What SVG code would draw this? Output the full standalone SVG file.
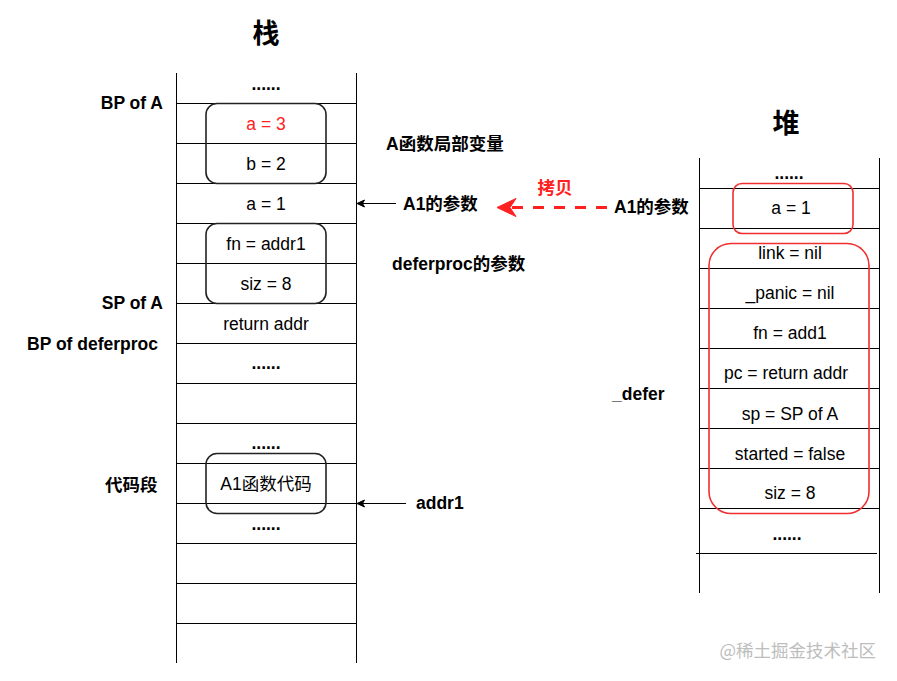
<svg xmlns="http://www.w3.org/2000/svg" width="897" height="681" viewBox="0 0 897 681">
<style>
  .ln { stroke: #000; stroke-width: 1; fill: none; }
  .t { font-family: "Liberation Sans", Arial, "Noto Sans CJK SC", sans-serif; font-size: 17.5px; fill: #000; text-anchor: middle; }
  .b { font-family: "Liberation Sans", Arial, "Noto Sans CJK SC", sans-serif; font-size: 17.5px; font-weight: bold; fill: #000; }
  .title { font-family: "Noto Sans CJK SC", sans-serif; font-size: 27px; font-weight: bold; text-anchor: middle; fill: #000; }
  .box { fill: none; stroke: #222; stroke-width: 1.6; }
  .rbox { fill: none; stroke: #f03030; stroke-width: 1.6; }
  .end { text-anchor: end; }
  .mid { text-anchor: middle; }
</style>
<rect width="897" height="681" fill="#fff"/>

<g id="titles">
  <text class="title" x="266" y="43">栈</text>
  <text class="title" x="786" y="133">堆</text>
</g>

<g id="stack">
  <line class="ln" x1="176.5" y1="73" x2="176.5" y2="663"/>
  <line class="ln" x1="356.5" y1="73" x2="356.5" y2="663"/>
  <path class="ln" d="M176,103.5H357M176,143.5H357M176,183.5H357M176,223.5H357M176,263.5H357M176,303.5H357M176,343.5H357M176,383.5H357M176,423.5H357M176,463.5H357M176,503.5H357M176,543.5H357M176,583.5H357M176,623.5H357"/>
  <text class="b mid" x="266" y="90">......</text>
  <text class="t" x="266" y="130" fill="#ff2020" style="fill:#ff2020">a = 3</text>
  <text class="t" x="266" y="170">b = 2</text>
  <text class="t" x="266" y="210">a = 1</text>
  <text class="t" x="266" y="250">fn = addr1</text>
  <text class="t" x="266" y="290">siz = 8</text>
  <text class="t" x="266" y="330">return addr</text>
  <text class="b mid" x="266" y="369">......</text>
  <text class="b mid" x="266" y="449">......</text>
  <text class="t" x="266" y="490">A1函数代码</text>
  <text class="b mid" x="266" y="530">......</text>
</g>

<g id="stack-boxes">
  <rect id="local-vars" class="box" x="206" y="103.5" width="120" height="80" rx="11"/>
  <rect id="deferproc-args" class="box" x="206" y="223.5" width="120" height="80" rx="11"/>
  <rect id="a1-code" class="box" x="206" y="453.5" width="120" height="60" rx="11"/>
</g>

<g id="heap">
  <line class="ln" x1="699.5" y1="158" x2="699.5" y2="593"/>
  <line class="ln" x1="879.5" y1="158" x2="879.5" y2="593"/>
  <path class="ln" d="M699,188.5H880M699,228.5H880M699,268.5H880M699,308.5H880M699,348.5H880M699,388.5H880M699,428.5H880M699,468.5H880M699,508.5H880M696,553.5H877"/>
  <text class="b mid" x="789" y="179">......</text>
  <text class="t" x="791" y="214">a = 1</text>
  <text class="t" x="790" y="259">link = nil</text>
  <text class="t" x="790" y="299">_panic = nil</text>
  <text class="t" x="790" y="339">fn = add1</text>
  <text class="t" x="786" y="379">pc = return addr</text>
  <text class="t" x="790" y="420">sp = SP of A</text>
  <text class="t" x="790" y="460">started = false</text>
  <text class="t" x="790" y="499">siz = 8</text>
  <text class="b mid" x="787" y="540">......</text>
</g>

<g id="heap-boxes">
  <rect id="heap-arg" class="rbox" x="733" y="183.5" width="120" height="50" rx="9"/>
  <rect id="defer-struct" class="rbox" x="709" y="243.5" width="160" height="270" rx="22"/>
</g>

<g id="labels">
  <text class="b end" x="163" y="109">BP of A</text>
  <text class="b end" x="163" y="309">SP of A</text>
  <text class="b end" x="158" y="350">BP of deferproc</text>
  <text class="b end" x="157.5" y="490.5">代码段</text>
  <text class="b" x="386" y="150">A函数局部变量</text>
  <text class="b" x="403" y="210">A1的参数</text>
  <text class="b" x="392" y="270">deferproc的参数</text>
  <text class="b" x="416" y="509">addr1</text>
  <text class="b" x="612" y="400">_defer</text>
  <text class="b" x="614" y="213">A1的参数</text>
  <text class="b mid" x="555" y="194" style="fill:#ff2020">拷贝</text>
</g>

<g id="connectors">
  <line class="ln" x1="396" y1="203.5" x2="362" y2="203.5"/>
  <path d="M357,203.5 L364.5,200 L362.5,203.5 L364.5,207 Z" fill="#000" stroke="#000" stroke-width="1"/>
  <line class="ln" x1="406" y1="503.5" x2="362" y2="503.5"/>
  <path d="M357,503.5 L364.5,500 L362.5,503.5 L364.5,507 Z" fill="#000" stroke="#000" stroke-width="1"/>
  <line x1="607" y1="207.5" x2="512" y2="207.5" stroke="#ff2020" stroke-width="3.2" stroke-dasharray="11 10"/>
  <path d="M497,207.5 L516,198.5 L510,207.5 L516,216.5 Z" fill="#ff2020" stroke="#ff2020" stroke-width="1"/>
</g>

<g id="watermark">
  <text x="876" y="657" text-anchor="end" style="font-family:'Noto Sans CJK SC',sans-serif;font-size:17.5px;fill:#bdbdbd">@稀土掘金技术社区</text>
</g>
</svg>
